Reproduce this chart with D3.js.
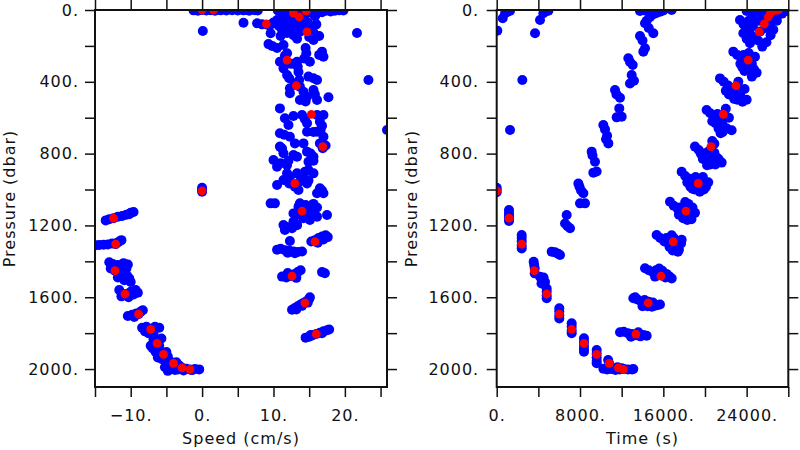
<!DOCTYPE html>
<html>
<head>
<meta charset="utf-8">
<script src="https://cdn.jsdelivr.net/npm/d3@7"></script>
<style>
  html, body { margin: 0; padding: 0; background: #fff; }
  svg text { font-family: "DejaVu Sans", sans-serif; font-size: 16px; letter-spacing: 1px; fill: #111; }
</style>
</head>
<body>
<svg id="chart" width="800" height="450"></svg>
<script>
// ---------------- DATA ----------------
// Red (bin-averaged) points: pressure (dbar), speed (cm/s), time (s)
const redPressure = [1160, 1304, 1452, 1582, 1694, 1779, 1857, 1918, 1968, 1993, 2002,
                     1007,
                     1805, 1631, 1482, 1291, 1120, 966, 761, 581, 422, 279, 122, 78, 39, 17, 5, 0, 0];
const redSpeed    = [-12.4, -12.1, -12.2, -10.8, -8.9, -7.2, -6.3, -5.4, -4.0, -2.8, -1.7,
                     0.0,
                     16.0, 14.4, 12.6, 15.8, 14.0, 13.0, 16.9, 15.3, 13.2, 11.9, 14.7, 9.0, 13.6, 12.8, 14.6, 1.6, 0.0];
const redTime     = [1180, 2400, 3610, 4800, 6010, 7200, 8380, 9600, 10810, 11680, 12150,
                     0,
                     13370, 14550, 15770, 16950, 18170, 19350, 20570, 21760, 22970, 24150, 25210, 25690, 26074, 26300, 26554, 26880, 27050];

// Blue (raw) points, left panel: [speed cm/s, pressure dbar]
const speedPressure = [
  [-1.2,2],[-0.6,4],[0,0],[0.6,3],[1.2,1],[1.8,4],[2.6,2],[3.4,3],[4.2,1],[5.0,3],[5.8,2],[6.6,4],[7.4,1],[7.8,3],
  [10.6,3],[11.2,8],[11.8,2],[12.4,12],[12.8,5],[13.2,20],[13.6,2],[14.0,10],[14.4,28],[14.8,4],[15.2,14],[15.6,6],
  [16.0,22],[16.4,3],[16.8,12],[17.2,5],[17.6,2],[18.0,8],[18.6,4],[19.2,2],[19.8,3],[12.0,25],[13.0,35],[14.2,42],
  [11.4,30],[15.8,35],[12.6,50],
  [5.8,71],[7.7,74],[8.4,80],[9.2,83],[9.8,78],[10.0,70],[9.6,130],[10.5,56],[10.8,90],[11.2,110],[11.6,65],[11.9,128],
  [12.2,95],[12.4,75],[13.0,100],[13.5,60],[13.8,120],[14.2,85],[14.8,70],[15.2,100],[15.6,125],[16.0,80],[16.4,145],
  [15.0,150],[12.8,140],[11.0,145],[13.3,160],[15.6,167],
  [9.3,190],[9.8,200],[10.5,212],[11.4,195],[11.9,241],[11.6,255],[14.5,212],[14.6,241],[16.8,232],[17.0,260],[16.4,250],
  [10.9,288],[13.3,288],[13.4,316],[15.1,288],[14.3,270],[12.5,300],
  [11.4,325],[11.9,362],[12.2,380],[13.5,345],[13.6,390],[14.9,371],[15.6,380],[16.1,390],[12.3,436],[13.7,427],[14.2,455],
  [14.7,483],[15.6,446],[16.1,501],[15.8,470],[17.7,486],[12.3,464],[13.7,501],[13.0,410],[14.5,510],
  [10.9,548],[11.6,603],[12.8,590],[14.0,585],[14.7,631],[14.4,608],[16.1,585],[17.0,585],[16.5,622],[16.8,645],[16.6,668],
  [12.1,641],[10.9,687],[11.5,695],[12.3,706],[14.7,678],[15.6,680],[16.1,678],[17.0,706],[13.0,743],[14.2,743],[16.5,743],
  [17.3,755],[16.9,770],
  [11.2,771],[11.4,798],[10.9,761],[12.8,808],[13.3,817],[14.7,789],[15.6,817],[15.2,800],[14.9,845],[15.6,840],[10.0,836],
  [10.5,873],[11.0,853],[11.9,864],[12.1,840],[14.9,891],[15.6,910],[14.4,901],[11.9,910],[12.3,929],[13.3,910],[14.2,929],
  [10.5,975],[11.4,947],[12.2,966],[13.0,984],[13.7,955],[14.7,966],[14.9,950],[13.5,1003],[16.5,993],[16.8,1005],[17.0,1021],
  [16.1,1021],[9.6,1077],[10.2,1077],[13.7,1077],[14.5,1086],[15.2,1096],[15.6,1080],[16.1,1100],
  [12.8,1133],[13.5,1096],[13.7,1142],[14.5,1125],[15.1,1133],[15.8,1140],[16.1,1151],[17.5,1142],[12.8,1179],[15.1,1170],
  [14.2,1160],[11.4,1198],[12.0,1210],[12.6,1216],[13.3,1198],[11.6,1225],
  [0.1,117],[21.7,128],[23.3,390],[25.9,668],
  [0,990],[0,1000],[0,1012],
  [12.3,1287],[11.6,1207],[13.3,1198],
  [15.3,1290],[15.8,1282],[16.3,1270],[16.8,1262],[17.3,1255],[17.6,1265],[16.2,1296],[17.0,1278],
  [10.5,1335],[11.0,1330],[11.6,1338],[12.2,1340],[12.8,1345],[13.4,1348],[14.0,1345],[12.0,1352],[13.0,1355],
  [11.2,1485],[11.8,1490],[12.4,1482],[13.0,1470],[13.4,1460],[13.8,1450],[12.0,1465],[13.2,1492],[16.8,1460],[17.2,1466],
  [12.6,1670],[13.0,1660],[13.4,1650],[13.8,1640],[14.2,1632],[14.6,1622],[15.0,1610],[15.1,1600],[13.2,1668],[14.0,1648],[14.8,1630],
  [14.5,1825],[15.0,1820],[15.5,1812],[16.0,1805],[16.5,1798],[17.0,1790],[17.5,1784],[17.8,1780],[15.2,1810],[16.8,1800],
  [-13.5,1172],[-13.0,1165],[-12.4,1160],[-11.8,1152],[-11.2,1147],[-10.6,1140],[-10.0,1130],[-9.6,1125],[-10.2,1138],
  [-14.9,1310],[-14.4,1309],[-13.8,1308],[-13.2,1306],[-12.6,1300],[-12.1,1304],[-11.6,1290],[-11.3,1282],[-11.9,1296],
  [-13.0,1405],[-12.5,1415],[-11.8,1420],[-11.0,1410],[-10.4,1418],[-12.8,1440],[-12.2,1452],[-11.5,1445],[-10.6,1440],
  [-11.2,1470],[-10.5,1480],[-11.8,1490],[-10.9,1505],[-10.2,1495],[-10.0,1515],
  [-11.6,1560],[-10.8,1582],[-10.0,1570],[-9.3,1560],[-9.0,1575],[-11.3,1595],[-10.3,1600],[-9.6,1585],
  [-10.4,1705],[-9.8,1698],[-9.2,1690],[-8.6,1680],[-8.3,1672],[-9.5,1710],[-8.9,1694],
  [-8.4,1770],[-8.0,1790],[-7.5,1800],[-7.2,1779],[-6.6,1765],[-6.0,1770],[-7.8,1765],[-6.8,1805],
  [-6.8,1835],[-6.2,1840],[-5.7,1830],[-6.6,1857],[-7.2,1870],[-6.9,1885],[-6.0,1870],
  [-6.5,1905],[-5.8,1912],[-5.4,1918],[-5.0,1905],[-6.2,1935],[-5.6,1945],[-4.8,1930],
  [-5.0,1955],[-4.4,1960],[-3.6,1962],[-4.0,1968],[-5.2,1990],[-4.5,1985],[-3.2,1980],[-4.8,2010],[-3.8,2005],
  [-4.2,2000],[-3.4,2003],[-2.8,1993],[-2.2,1998],[-1.7,2002],[-1.0,2000],[-0.4,2002],[-2.6,2008],[-1.4,2006],[-3.0,1990]
];

// Blue (raw) points, right panel: [time s, pressure dbar]
const timePressure = [
  [60,115],[576,46],[800,18],[1050,10],[1280,4],[3680,130],[4160,56],[4480,18],[4700,8],[4960,4],[2460,390],[1280,668],
  [0,990],[0,1003],[0,1015],
  [1180,1114],[1180,1130],[1180,1145],[1180,1160],[1180,1175],
  [2400,1253],[2400,1270],[2400,1290],[2400,1310],[2400,1328],
  [3550,1402],[3600,1420],[3650,1440],[3650,1467],[4160,1486],[4400,1500],[4640,1515],[4300,1523],[4500,1490],
  [4800,1551],[4800,1570],[4800,1590],[4800,1606],
  [6010,1662],[6010,1680],[6010,1700],[6010,1718],
  [7200,1745],[7200,1765],[7200,1785],[7200,1801],
  [8380,1829],[8380,1850],[8380,1870],[8380,1890],[8380,1904],
  [9600,1894],[9600,1915],[9600,1935],[9600,1955],[9600,1968],
  [10700,1950],[10810,1970],[10900,1985],[10810,1996],
  [10240,1998],[10600,2003],[11000,2000],[11400,2005],[11800,2002],[12200,2000],[12600,2003],[13000,2002],[13120,2000],
  [11600,1990],[12000,1995],
  [5280,1346],[5600,1350],[5900,1358],[6080,1365],[6560,1189],[6720,1142],[6800,1205],[7040,1216],[7840,966],[7950,985],
  [8100,1005],[8320,1021],[8000,1077],[8480,1077],[9280,906],[9600,900],[9120,789],[9200,810],[9440,845],[10240,641],
  [10400,665],[10600,700],[10720,743],[10500,720],[11520,598],[12000,594],[11770,548],[11360,446],[11500,470],[11840,489],
  [12800,409],[13180,394],[12960,362],[12640,269],[12800,290],[13060,306],[13760,145],[14000,170],[14240,213],[14080,232],
  [14240,74],[14400,60],[14700,40],[15000,25],[15300,18],[15680,10],[15040,130],[14600,100],[13760,5],[14200,3],[14800,2],
  [16000,3],[16800,0],
  [11840,1795],[12200,1792],[12600,1800],[13000,1805],[13400,1812],[13800,1818],[14100,1810],[14400,1815],[12900,1820],[13600,1795],
  [13120,1606],[13500,1612],[13900,1625],[14300,1630],[14700,1640],[15100,1648],[15400,1645],[15680,1640],[14000,1650],[14900,1653],[13300,1600],
  [14200,1615],[14600,1625],[14500,1650],[15000,1630],
  [14240,1439],[14600,1450],[15000,1460],[15400,1470],[15800,1478],[16200,1490],[16600,1485],[16800,1495],[15600,1440],[15900,1452],[16300,1470],
  [15300,1450],[15700,1465],[16000,1480],[15200,1485],
  [15360,1253],[15700,1270],[16100,1290],[16500,1300],[16900,1310],[17300,1320],[17700,1300],[17760,1280],[17000,1270],[16800,1255],
  [17400,1346],[16900,1340],[17500,1335],[16300,1270],[16700,1280],[17200,1300],[16600,1320],[17100,1290],
  [16640,1068],[17000,1090],[17400,1110],[17800,1125],[18200,1140],[18600,1135],[19040,1130],[18800,1100],[18400,1080],[17900,1160],
  [18300,1170],[18700,1165],[18100,1070],[17600,1100],[18000,1100],[18400,1120],[18000,1145],[17500,1140],
  [17760,901],[18100,925],[18500,940],[18900,955],[19300,975],[19700,990],[20100,985],[20310,960],[19800,930],[19500,1012],[18800,995],
  [18300,960],[18700,975],[19000,1000],[19600,960],[19100,930],[18600,985],[19900,1000],
  [19040,761],[19400,780],[19800,800],[20200,820],[20600,840],[21000,860],[21600,850],[21300,830],[20900,795],[20700,730],[20900,745],[20200,865],
  [19800,830],[20300,790],[20700,810],[21100,820],[20500,860],[19600,800],
  [20160,557],[20500,575],[20900,600],[21300,620],[21700,640],[22100,660],[22560,670],[22300,600],[21500,687],[22000,550],[21200,580],
  [21000,630],[21600,610],[21900,600],[21300,660],[21700,680],[20700,620],
  [21440,381],[21800,400],[22200,420],[22600,440],[23000,460],[23400,480],[24000,500],[23600,511],[22800,495],[22300,470],[23800,440],[23200,400],
  [22400,440],[22900,430],[22700,470],[23300,450],[23100,500],[22000,450],
  [22720,232],[23100,250],[23500,270],[23900,290],[24300,310],[24700,330],[24960,350],[24500,371],[23800,340],[24800,260],[24200,240],[23400,300],
  [23700,250],[24000,270],[24300,280],[24500,300],[23600,320],[24100,330],
  [23360,56],[23700,80],[24000,100],[24300,130],[24700,150],[25100,170],[25500,204],[25900,180],[26300,140],[26560,110],[23680,130],
  [24320,185],[24000,160],[24600,90],[25200,60],[25800,100],[26200,70],[26600,50],[27000,30],[27400,20],[27840,5],[24000,5],
  [24500,15],[25000,30],[25500,10],[26000,4],[26500,20],[27000,3],[27500,8],[24800,40],[25300,120],[25600,45],[26900,60],[24200,60]
];

// Axis ticks and labels
const pressureTicks = [0, 200, 400, 600, 800, 1000, 1200, 1400, 1600, 1800, 2000];
const pressureLabelValues = [0, 400, 800, 1200, 1600, 2000];
const pressureLabelText = ["0.", "400.", "800.", "1200.", "1600.", "2000."];
const speedTicks = [-15, -10, -5, 0, 5, 10, 15, 20, 25];
const speedLabelValues = [-10, 0, 10, 20];
const speedLabelText = ["\u221210.", "0.", "10.", "20."];
const timeTicks = [0, 4000, 8000, 12000, 16000, 20000, 24000, 28000];
const timeLabelValues = [0, 8000, 16000, 24000];
const timeLabelText = ["0.", "8000.", "16000.", "24000."];

// ---------------- DRAW ----------------
const svg = d3.select("#chart");
const yTop = 10, yBottom = 387;
const yScale = d3.scaleLinear().domain([0, 2100]).range([yTop, yBottom]);

function labeler(values, texts) {
  return d => { const i = values.indexOf(d); return i >= 0 ? texts[i] : ""; };
}

function panel(id, left, right, xDomain, xTicks, xLabVals, xLabTxt, pts, redX, xTitle) {
  const x = d3.scaleLinear().domain(xDomain).range([left, right]);
  const g = svg.append("g");

  g.append("clipPath").attr("id", "clip" + id)
    .append("rect").attr("x", left).attr("y", yTop).attr("width", right - left).attr("height", yBottom - yTop);

  const plot = g.append("g").attr("clip-path", `url(#clip${id})`);
  plot.selectAll("circle.b").data(pts).join("circle")
    .attr("class", "b")
    .attr("cx", d => x(d[0])).attr("cy", d => yScale(d[1])).attr("r", 5)
    .attr("fill", "#0000ff");
  plot.selectAll("circle.r").data(redPressure.map((p, i) => [redX[i], p])).join("circle")
    .attr("class", "r")
    .attr("cx", d => x(d[0])).attr("cy", d => yScale(d[1])).attr("r", 4.4)
    .attr("fill", "#ff0000");

  const tk = sel => { sel.select(".domain").remove(); sel.selectAll(".tick line").attr("stroke", "#111").attr("stroke-width", 1.5); };

  g.append("g").attr("transform", `translate(0,${yBottom})`)
    .call(d3.axisBottom(x).tickValues(xTicks).tickSize(10).tickPadding(13).tickFormat(labeler(xLabVals, xLabTxt)))
    .call(tk).selectAll("text").attr("font-size", null).attr("font-family", null);
  g.append("g").attr("transform", `translate(0,${yTop})`)
    .call(d3.axisTop(x).tickValues(xTicks).tickSize(10).tickFormat(""))
    .call(tk);
  g.append("g").attr("transform", `translate(${left},0)`)
    .call(d3.axisLeft(yScale).tickValues(pressureTicks).tickSize(10).tickPadding(id === "L" ? 6 : 7.5)
      .tickFormat(labeler(pressureLabelValues, pressureLabelText)))
    .call(tk).selectAll("text").attr("font-size", null).attr("font-family", null);
  g.append("g").attr("transform", `translate(${right},0)`)
    .call(d3.axisRight(yScale).tickValues(pressureTicks).tickSize(10).tickFormat(""))
    .call(tk);

  g.append("rect").attr("x", left).attr("y", yTop).attr("width", right - left).attr("height", yBottom - yTop)
    .attr("fill", "none").attr("stroke", "#111").attr("stroke-width", 2);

  g.append("text").attr("x", (left + right) / 2).attr("y", 444).attr("text-anchor", "middle").text(xTitle);
  g.append("text").attr("transform", `translate(${left - 80},${(yTop + yBottom) / 2}) rotate(-90)`)
    .attr("text-anchor", "middle").text("Pressure (dbar)");
}

panel("L", 95, 387, [-15, 25.9], speedTicks, speedLabelValues, speedLabelText, speedPressure, redSpeed, "Speed (cm/s)");
panel("R", 496.7, 788.3, [0, 28000], timeTicks, timeLabelValues, timeLabelText, timePressure, redTime, "Time (s)");
</script>
</body>
</html>
